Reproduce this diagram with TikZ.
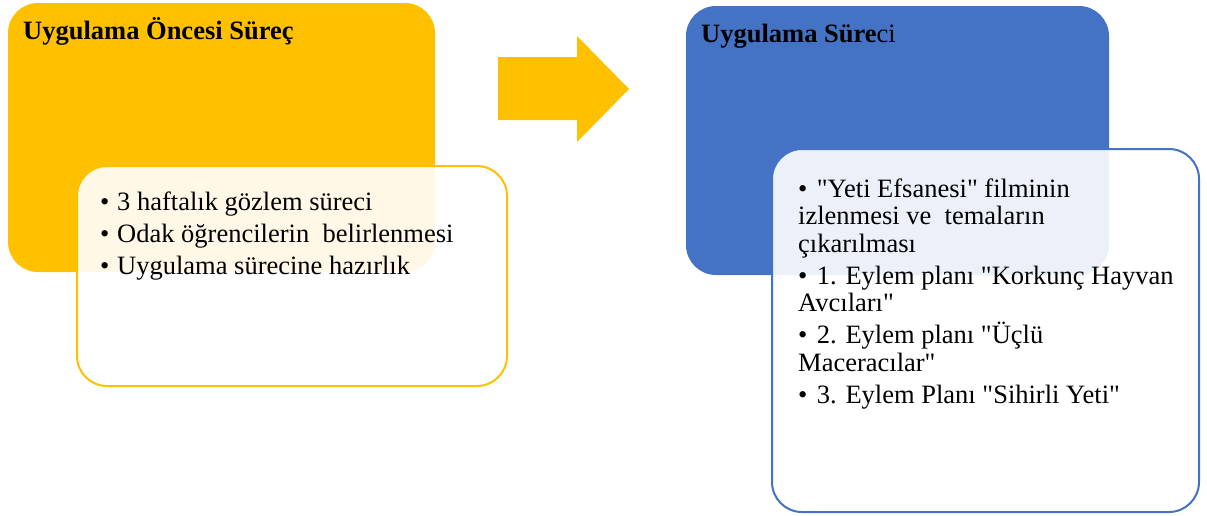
\documentclass[tikz,border=0pt]{standalone}
\usepackage{fontspec}
% straight double quotes are kept as typed
\setmainfont{Liberation Serif}[Ligatures=TeXOff]
\definecolor{gold}{HTML}{FFC000}
\definecolor{steel}{HTML}{4472C4}

% one bulleted item with a hanging indent of \itemhang
\newlength\itemhang
\newcommand{\listitem}[1]{\par\noindent\hangindent=\itemhang\hangafter=1\makebox[\itemhang][l]{•}#1}
\newcommand{\listfont}{\fontsize{26.5pt}{27.5pt}\selectfont\setlength\parskip{4.5pt}\lineskiplimit=-100pt\raggedright}

\tikzset{
  stagebox/.style={anchor=north west, rounded corners=30pt, inner sep=0pt, outer sep=0pt},
  notebox/.style={anchor=north west, rounded corners=30pt, inner sep=0pt, outer sep=0pt,
    fill=white, fill opacity=0.9, line width=2pt},
  titletext/.style={anchor=base west, inner sep=0pt, font=\fontsize{26.5pt}{27.5pt}\selectfont},
  listtext/.style={anchor=base west, inner sep=0pt},
}

\begin{document}
\begin{tikzpicture}[x=1pt, y=-1pt]
\useasboundingbox (0,0) rectangle (1207,515);

% first stage
\node[stagebox, fill=gold, minimum width=427pt, minimum height=269pt] (pre) at (8,3) {};
\node[titletext] (pretitle) at (23,39) {\textbf{Uygulama Öncesi Süreç}};
\node[notebox, draw=gold, minimum width=430pt, minimum height=220pt] (prenote) at (77,166) {};
\node[listtext] (prelist) at (100,210) {\parbox[t]{400pt}{\listfont\setlength\itemhang{17pt}%
  \listitem{3 haftalık gözlem süreci}
  \listitem{Odak öğrencilerin\ \ belirlenmesi}
  \listitem{Uygulama sürecine hazırlık}}};

% arrow between the stages
\path[fill=gold] (498,57) -- (577,57) -- (577,36) -- (629,89) -- (577,142) -- (577,120) -- (498,120) -- cycle;

% second stage
\node[stagebox, fill=steel, minimum width=423pt, minimum height=269pt] (main) at (686,6) {};
\node[titletext] (maintitle) at (701,42) {\textbf{Uygulama Süre}ci};
\node[notebox, draw=steel, minimum width=427pt, minimum height=363pt] (mainnote) at (772,149) {};
\node[listtext] (mainlist) at (798,197) {\parbox[t]{420pt}{\listfont\setlength\itemhang{12pt}%
  \listitem{\ "Yeti Efsanesi" filminin\\izlenmesi ve\ \ temaların\\çıkarılması}
  \listitem{\ 1. Eylem planı "Korkunç Hayvan\\Avcıları"}
  \listitem{\ 2. Eylem planı "Üçlü\\Maceracılar"}
  \listitem{\ 3. Eylem Planı "Sihirli Yeti"}}};
\end{tikzpicture}
\end{document}
